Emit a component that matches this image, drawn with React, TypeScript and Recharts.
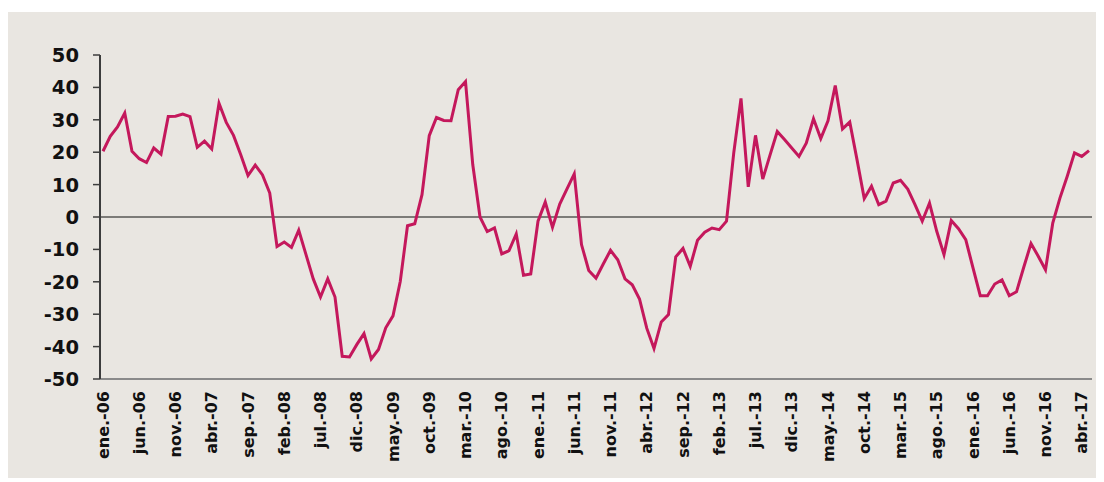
import React from 'react';
import { LineChart, Line, XAxis, YAxis, ReferenceLine } from 'recharts';

// monthly series, ene-06 .. may-17
const MONTHS = ['ene', 'feb', 'mar', 'abr', 'may', 'jun', 'jul', 'ago', 'sep', 'oct', 'nov', 'dic'];
const START_YEAR = 2006;

const values2006 = [20.3, 24.9, 27.8, 32.1, 20.3, 18.0, 16.8, 21.3, 19.4, 31.0, 31.1, 31.8];
const values2007 = [31.0, 21.5, 23.4, 21.0, 35.1, 29.2, 25.2, 19.2, 12.8, 16.0, 13.0, 7.4];
const values2008 = [-9.1, -7.7, -9.4, -4.1, -11.6, -19.1, -24.7, -19.1, -24.7, -43.0, -43.2, -39.4];
const values2009 = [-36.0, -43.8, -40.9, -34.2, -30.5, -19.9, -2.7, -2.1, 6.9, 25.1, 30.7, 29.8];
const values2010 = [29.7, 39.3, 41.8, 16.2, 0.0, -4.5, -3.4, -11.4, -10.4, -5.2, -18.0, -17.6];
const values2011 = [-1.3, 4.6, -3.2, 4.0, 8.7, 13.3, -8.5, -16.5, -18.9, -14.5, -10.3, -13.2];
const values2012 = [-19.1, -20.9, -25.3, -34.3, -40.6, -32.4, -30.1, -12.3, -9.7, -15.2, -7.2, -4.7];
const values2013 = [-3.4, -3.9, -1.3, 19.8, 36.6, 9.3, 25.2, 11.7, 19.1, 26.4, 23.9, 21.3];
const values2014 = [18.7, 22.8, 30.3, 24.2, 29.7, 40.6, 27.2, 29.3, 17.7, 5.7, 9.5, 3.8];
const values2015 = [4.9, 10.5, 11.3, 8.6, 3.8, -1.3, 4.3, -4.4, -11.6, -1.1, -3.6, -7.0];
const values2016 = [-15.7, -24.3, -24.3, -20.7, -19.4, -24.3, -23.1, -15.5, -8.2, -12.1, -16.3, -1.9];
const values2017 = [5.9, 12.6, 19.8, 18.7, 20.5];

const yTicks = [-50, -40, -30, -20, -10, 0, 10, 20, 30, 40, 50];

const series = [
  ...values2006, ...values2007, ...values2008, ...values2009, ...values2010, ...values2011,
  ...values2012, ...values2013, ...values2014, ...values2015, ...values2016, ...values2017,
];

const data = series.map((v, i) => {
  const year = START_YEAR + Math.floor(i / 12);
  const label = `${MONTHS[i % 12]}.-${String(year % 100).padStart(2, '0')}`;
  return { month: label, value: v };
});

const FONT = '"DejaVu Sans", sans-serif';

const MonthTick = (props: any) => {
  const { x, y, payload } = props;
  return (
    <text
      x={x}
      y={y}
      transform={`rotate(-90, ${x}, ${y})`}
      textAnchor="end"
      dominantBaseline="central"
      fontFamily={FONT}
      fontWeight="bold"
      fontSize={16}
      fill="#111"
    >
      {payload.value}
    </text>
  );
};

export default function App() {
  return (
    <div style={{ position: 'relative', top: 4, width: 1096, height: 470, background: '#E9E6E1' }}>
      <LineChart width={1096} height={470} data={data} margin={{ top: 43, right: 12, left: 0, bottom: 0 }}>
        <XAxis
          dataKey="month"
          height={103}
          interval={4}
          padding={{ left: 3, right: 3 }}
          axisLine={{ stroke: '#8a8a8a', strokeWidth: 2 }}
          tickLine={false}
          tickSize={0}
          tickMargin={12}
          tick={<MonthTick />}
        />
        <XAxis
          xAxisId="top"
          orientation="top"
          dataKey="month"
          height={0}
          tick={false}
          tickLine={false}
          axisLine={{ stroke: '#8a8a8a', strokeWidth: 2 }}
        />
        <YAxis
          width={92}
          domain={[-50, 50]}
          ticks={yTicks}
          interval={0}
          axisLine={{ stroke: '#3c3c3c', strokeWidth: 2 }}
          tickLine={{ stroke: '#3c3c3c', strokeWidth: 1.5 }}
          tickSize={7}
          tickMargin={14}
          tick={{ fontFamily: FONT, fontWeight: 'bold', fontSize: 19.5, fill: '#111' }}
        />
        <YAxis
          yAxisId="right"
          orientation="right"
          width={0}
          domain={[-50, 50]}
          tick={false}
          tickLine={false}
          axisLine={{ stroke: '#8a8a8a', strokeWidth: 2 }}
        />
        <ReferenceLine y={0} stroke="#111" strokeWidth={1.2} />
        <Line
          type="linear"
          dataKey="value"
          stroke="#C4185C"
          strokeWidth={3}
          dot={false}
          isAnimationActive={false}
        />
      </LineChart>
    </div>
  );
}
